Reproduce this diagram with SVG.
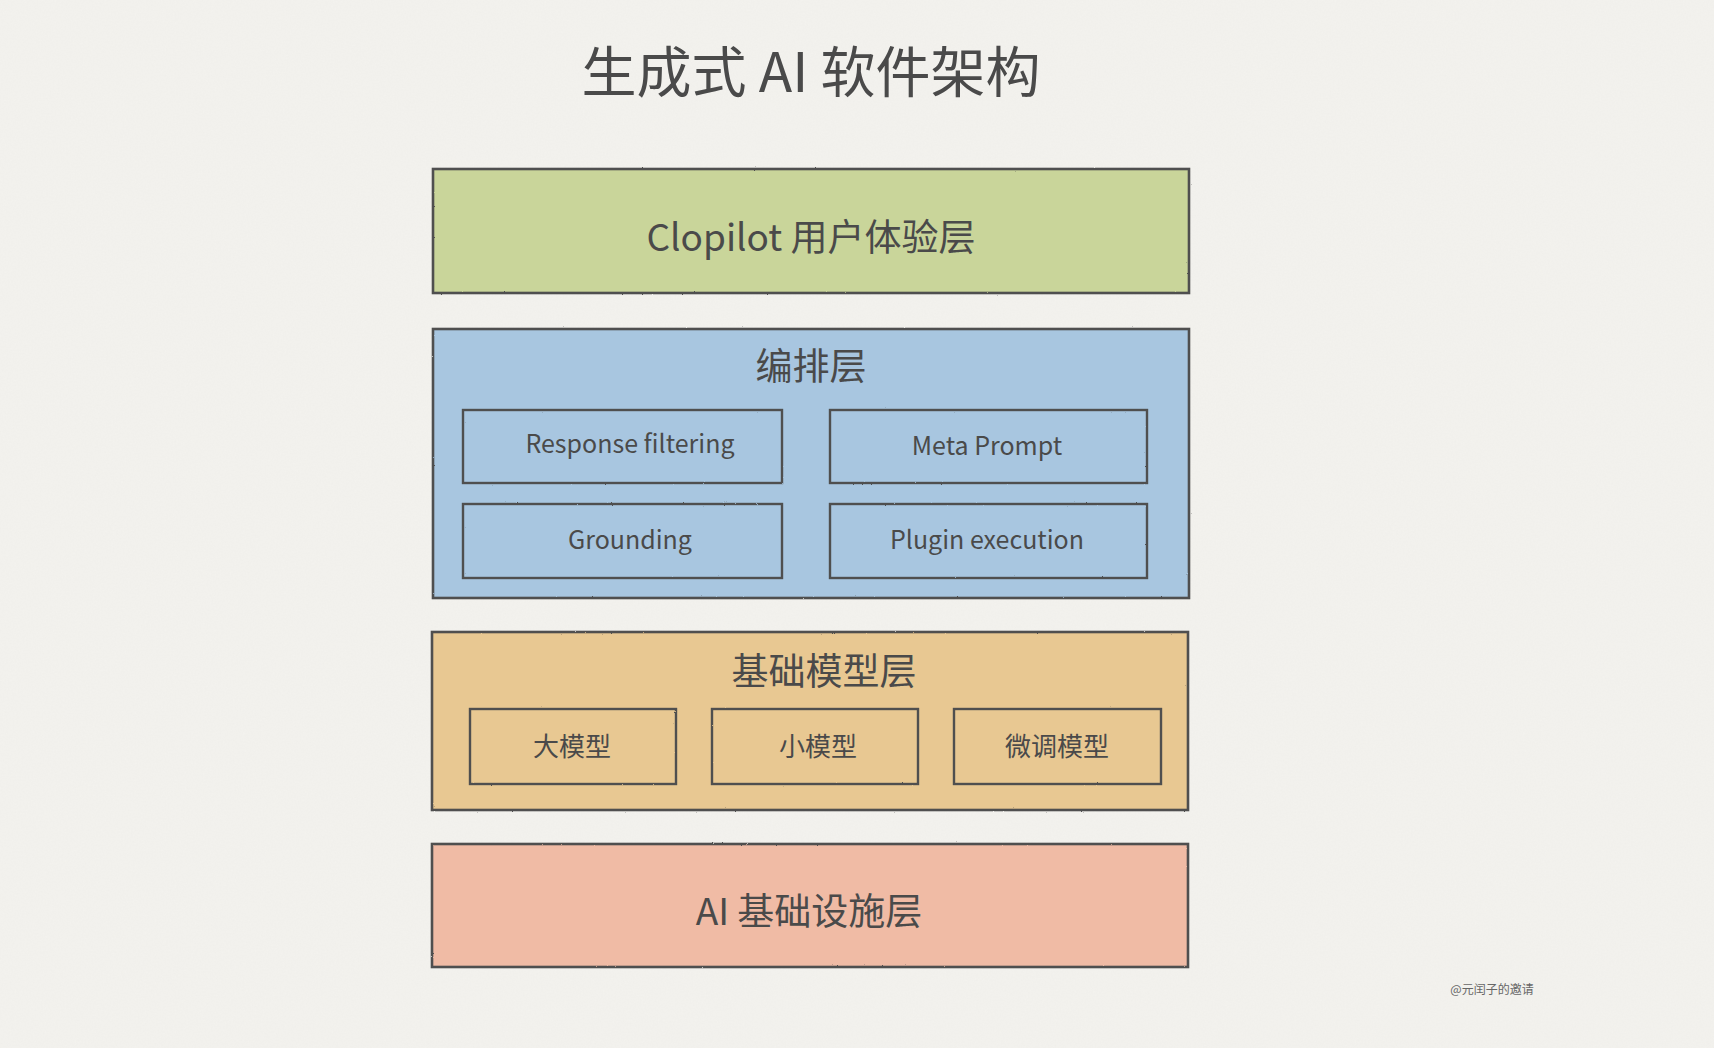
<svg xmlns="http://www.w3.org/2000/svg" width="1714" height="1048" viewBox="0 0 1714 1048">
  <defs>
    <filter id="rough" x="-2%" y="-5%" width="104%" height="110%">
      <feTurbulence type="fractalNoise" baseFrequency="0.9" numOctaves="2" seed="3" result="n"/>
      <feDisplacementMap in="SourceGraphic" in2="n" scale="1.6" xChannelSelector="R" yChannelSelector="G"/>
    </filter>
    <filter id="paper" x="0" y="0" width="100%" height="100%">
      <feTurbulence type="fractalNoise" baseFrequency="0.6" numOctaves="3" seed="7" result="t"/>
      <feColorMatrix in="t" type="matrix" values="0 0 0 0 0.5  0 0 0 0 0.5  0 0 0 0 0.48  0 0 0 0.05 0" result="c"/>
      <feComposite in="c" in2="SourceGraphic" operator="in"/>
    </filter>
  </defs>
  <style>
    text { font-family: "Noto Sans CJK SC", "Noto Sans", "Liberation Sans", sans-serif; fill: #4a4a4a; text-anchor: middle; dominant-baseline: central; }
    .title { font-size: 55px; }
    .layer { font-size: 37px; }
    .sub { font-size: 25px; }
    .subcn { font-size: 26px; }
    .wm { font-size: 12px; fill: #666; }
    .box { stroke: #4f4f4f; stroke-width: 2.6; filter: url(#rough); }
    .inner { fill: none; stroke: #505050; stroke-width: 2.4; filter: url(#rough); }
  </style>
  <rect x="0" y="0" width="1714" height="1048" fill="#f3f2ee"/>
  <rect x="0" y="0" width="1714" height="1048" fill="#f3f2ee" filter="url(#paper)"/>

  <g id="title">
    <text class="title" x="811" y="68">生成式 AI 软件架构</text>
  </g>

  <g id="layer-ux">
    <rect class="box" x="433" y="169" width="756" height="124" fill="#c9d59a"/>
    <text class="layer" x="811" y="235">Clopilot 用户体验层</text>
  </g>

  <g id="layer-orchestration">
    <rect class="box" x="433" y="329" width="756" height="269" fill="#a8c6e0"/>
    <text class="layer" x="811" y="364">编排层</text>
    <g id="response-filtering">
      <rect class="inner" x="463" y="410" width="319" height="73"/>
      <text class="sub" x="630" y="442">Response filtering</text>
    </g>
    <g id="meta-prompt">
      <rect class="inner" x="830" y="410" width="317" height="73"/>
      <text class="sub" x="987" y="444">Meta Prompt</text>
    </g>
    <g id="grounding">
      <rect class="inner" x="463" y="504" width="319" height="74"/>
      <text class="sub" x="630" y="538">Grounding</text>
    </g>
    <g id="plugin-execution">
      <rect class="inner" x="830" y="504" width="317" height="74"/>
      <text class="sub" x="987" y="538">Plugin execution</text>
    </g>
  </g>

  <g id="layer-foundation">
    <rect class="box" x="432" y="632" width="756" height="178" fill="#e8c892"/>
    <text class="layer" x="824" y="669">基础模型层</text>
    <g id="large-model">
      <rect class="inner" x="470" y="709" width="206" height="75"/>
      <text class="subcn" x="572" y="744">大模型</text>
    </g>
    <g id="small-model">
      <rect class="inner" x="712" y="709" width="206" height="75"/>
      <text class="subcn" x="818" y="744">小模型</text>
    </g>
    <g id="finetuned-model">
      <rect class="inner" x="954" y="709" width="207" height="75"/>
      <text class="subcn" x="1057" y="744">微调模型</text>
    </g>
  </g>

  <g id="layer-infra">
    <rect class="box" x="432" y="844" width="756" height="123" fill="#f0bba5"/>
    <text class="layer" x="809" y="909">AI 基础设施层</text>
  </g>

  <g id="connectors"/>

  <g id="watermark">
    <text class="wm" x="1492" y="988">@元闰子的邀请</text>
  </g>
</svg>
